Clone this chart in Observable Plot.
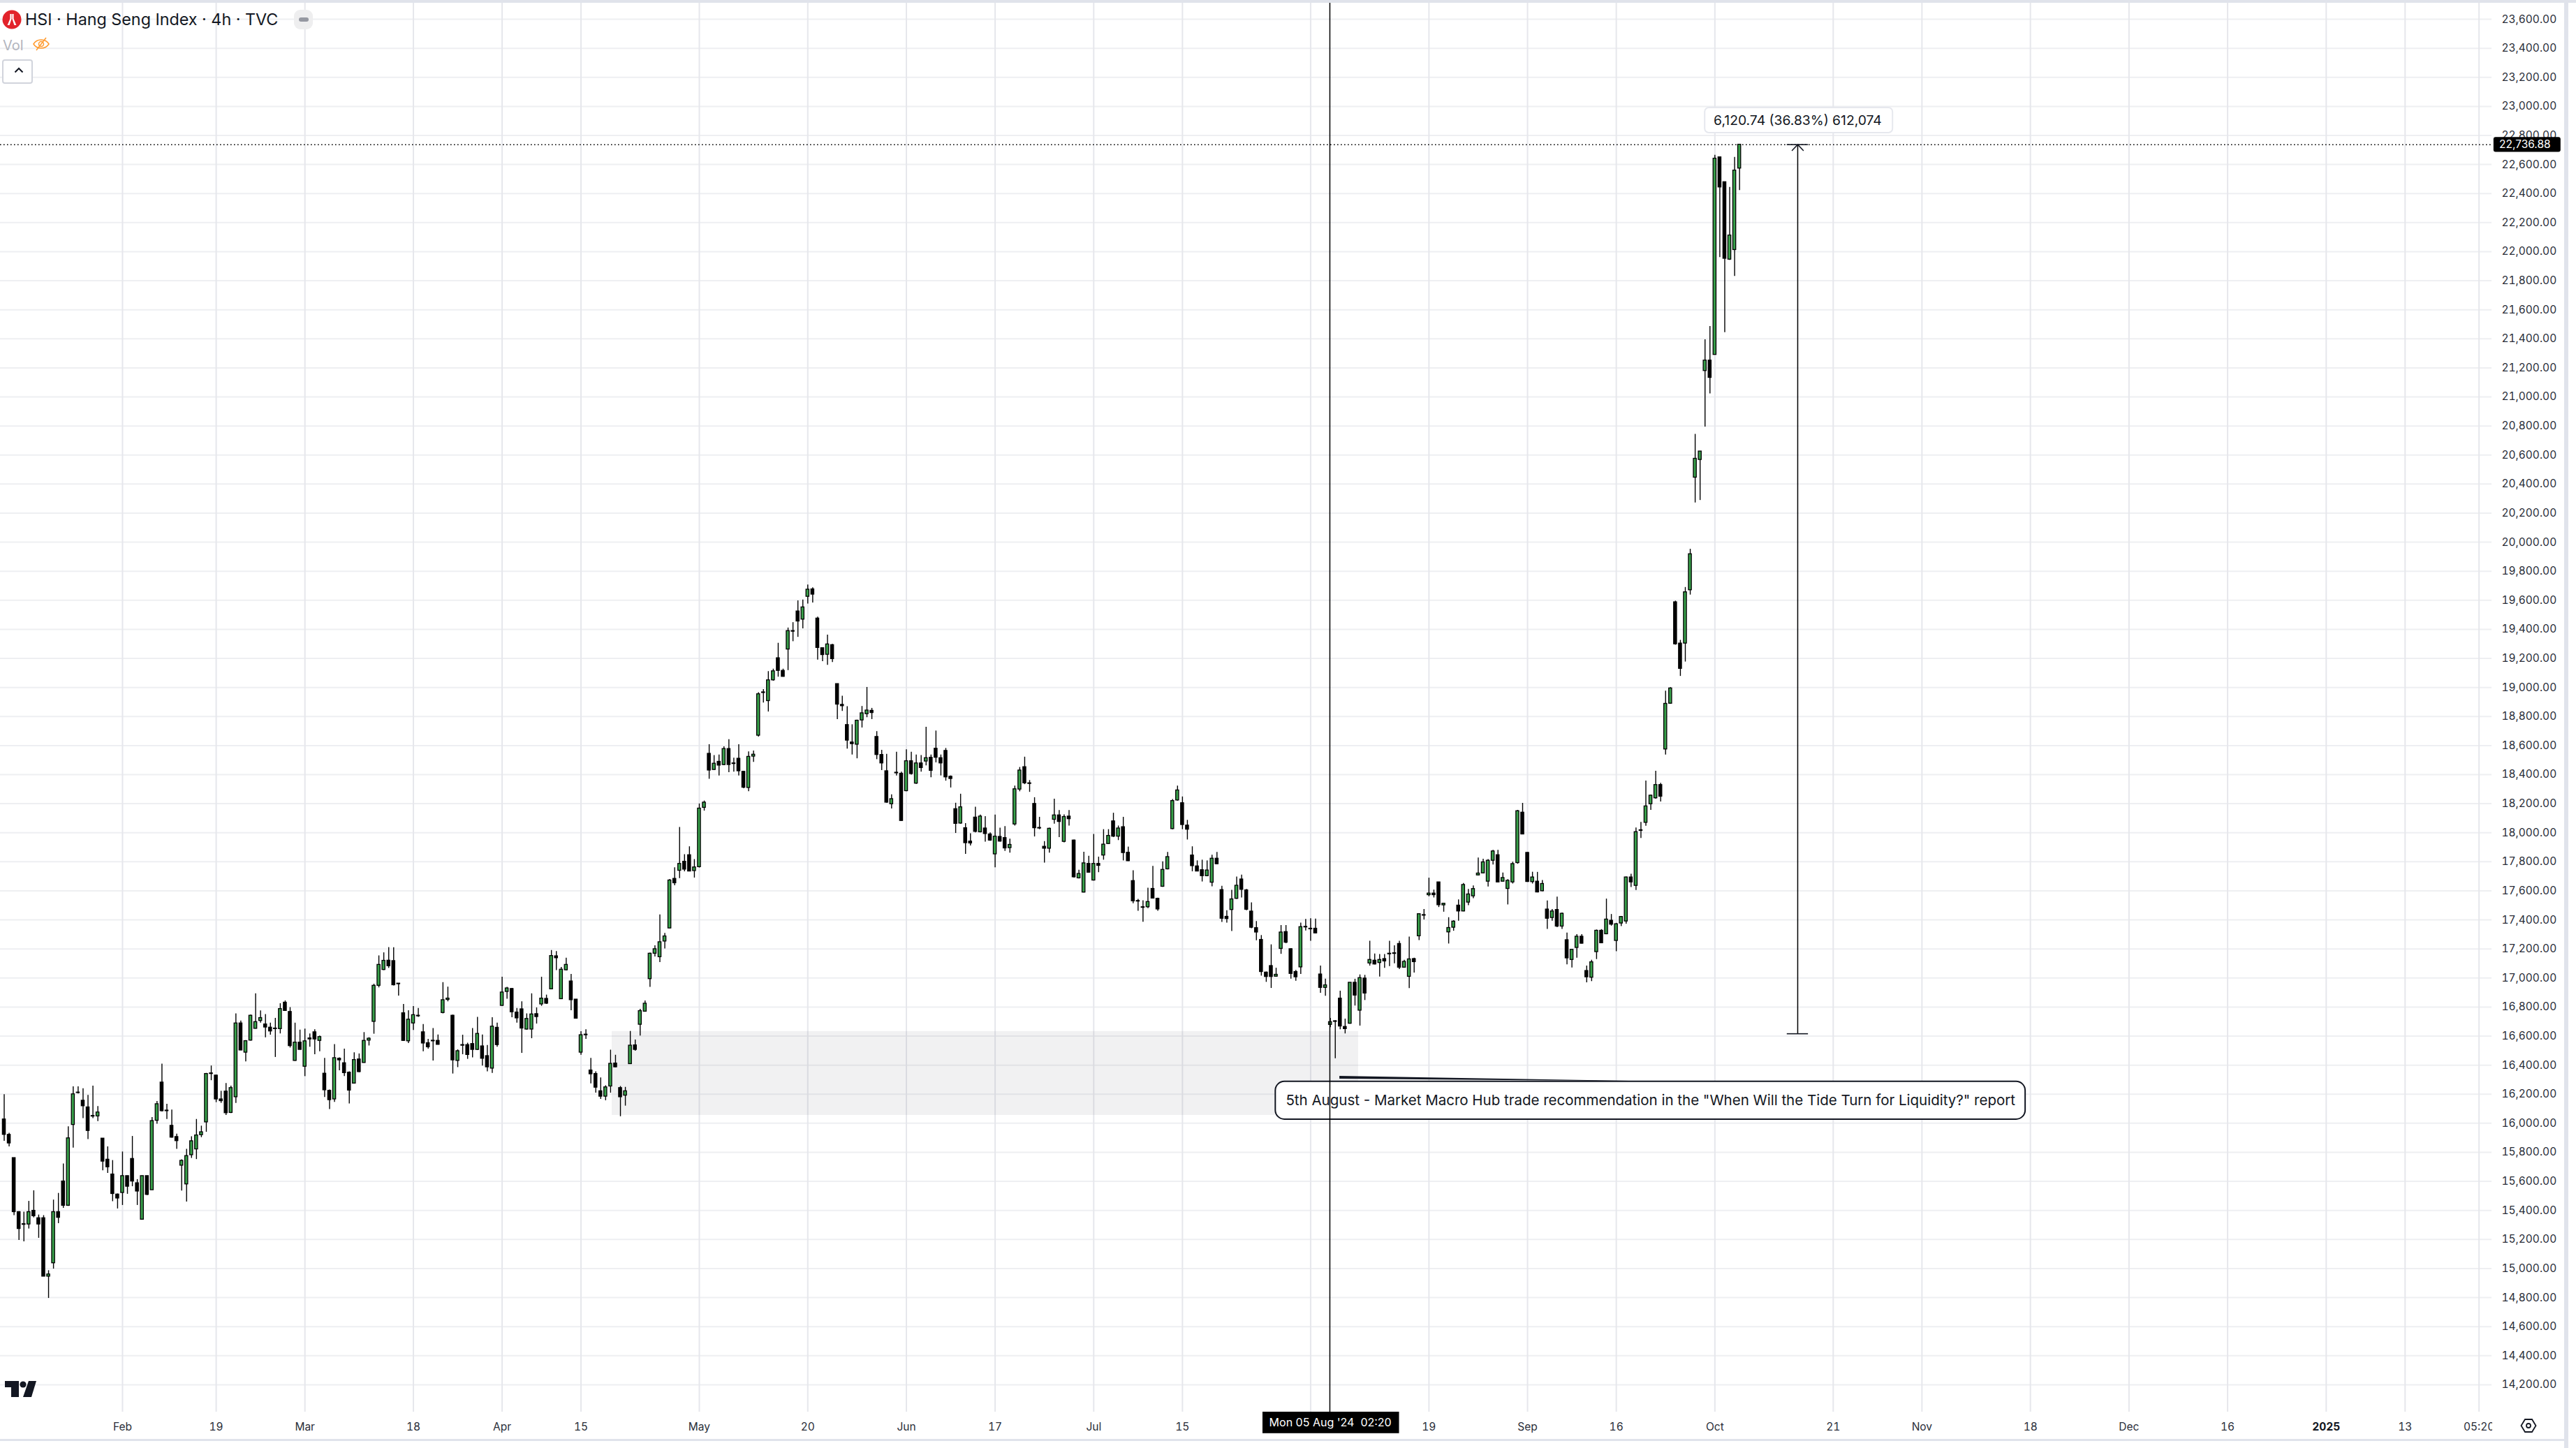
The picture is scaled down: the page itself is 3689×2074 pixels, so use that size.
<!DOCTYPE html>
<html><head><meta charset="utf-8">
<script src="https://cdn.jsdelivr.net/npm/d3@7"></script>
<script src="https://cdn.jsdelivr.net/npm/@observablehq/plot@0.6"></script>
<style>
html,body{margin:0;padding:0;background:#fff;width:3689px;height:2074px;overflow:hidden;font-family:Inter,"Noto Sans",sans-serif}
#wrap{position:relative;width:3689px;height:2074px}
#wrap svg.plot{display:block;max-width:none}
.ab{position:absolute}
</style></head><body><div id="wrap"></div>
<script>
const opens=[16027,15921,15761,15389,15306,15304,15398,15347,15347,14945,
15037,15389,15600,15433,15989,16212,16156,16110,16051,16048,
15895,15750,15648,15510,15521,15637,15755,15588,15337,15637,
15540,16018,16281,16088,15983,15906,15709,15580,15781,15821,
15919,16007,16344,16329,16165,16219,16072,16180,16688,16487,
16570,16651,16705,16681,16659,16653,16649,16831,16767,16430,
16556,16390,16585,16627,16568,16342,16224,16165,16445,16414,
16349,16274,16440,16416,16570,16699,16947,17056,17120,17117,
16962,16758,16565,16688,16741,16627,16552,16569,16568,16760,
16850,16741,16430,16539,16539,16546,16506,16530,16463,16377,
16658,16809,16905,16925,16763,16785,16646,16646,16752,16819,
16857,16923,17150,16855,17054,16977,16852,16487,16611,16364,
16340,16221,16184,16254,16412,16243,16191,16408,16537,16679,
16769,16993,17168,17144,17252,17342,17683,17739,17801,17846,
17737,17764,18172,18544,18433,18489,18467,18577,18478,18510,
18420,18309,18525,18669,18963,18907,19050,19202,19115,19262,
19389,19524,19468,19625,19676,19475,19271,19226,19292,19024,
18881,18742,18622,18607,18774,18817,18840,18660,18536,18424,
18197,18414,18407,18287,18493,18339,18478,18491,18517,18579,
18514,18564,18386,18163,18064,18032,17940,18105,18004,18030,
17989,17852,17972,17964,17895,18058,18298,18452,18341,18199,
18034,17904,17891,18090,18120,17938,18112,17947,17687,17589,
17786,17672,17786,17844,17923,18079,17974,18039,17863,17668,
17531,17488,17488,17614,17546,17629,17749,18026,18223,18204,
18050,17844,17769,17743,17702,17657,17822,17606,17422,17469,
17546,17679,17604,17458,17344,17263,17038,17083,17010,17201,
17317,17199,17042,17074,17353,17340,17340,17025,16933,16678,
16703,16859,16664,16686,16968,16776,16997,17101,17120,17104,
17131,17168,17171,17235,17072,17009,17131,17288,17434,17571,
17582,17659,17501,17315,17347,17499,17459,17520,17563,17707,
17721,17664,17808,17846,17664,17614,17659,17792,18139,17862,
17661,17664,17598,17472,17414,17469,17355,17261,17125,17208,
17285,17049,17003,17179,17326,17302,17395,17256,17376,17390,
17693,17635,18018,18069,18197,18238,18329,18574,18889,19587,
19303,19303,19670,20445,20567,21179,21251,21290,22650,22479,
21946,22012,22573];
const highs=[16197,15932,15761,15393,15389,15463,15536,15369,15365,14986,
15472,15518,15720,15976,16252,16252,16239,16193,16257,16116,
15895,15838,15744,15514,15803,15637,15910,15613,15637,15637,
16040,16151,16408,16132,16092,15926,15750,15821,15908,16027,
15981,16344,16395,16331,16221,16274,16257,16754,16705,16570,
16745,16892,16774,16749,16690,16723,16824,16843,16797,16690,
16642,16649,16616,16644,16601,16447,16230,16543,16451,16511,
16355,16486,16478,16625,16590,16958,17153,17174,17210,17209,
16962,16819,16776,16804,16791,16681,16579,16653,16609,16969,
16938,16745,16506,16607,16552,16653,16730,16609,16537,16727,
16690,17006,16936,16929,16791,16837,16754,16892,16795,17006,
16883,17190,17183,17073,17137,17026,16852,16631,16644,16447,
16355,16313,16259,16504,16469,16254,16248,16633,16574,16785,
16843,17172,17223,17435,17308,17679,17760,18037,17850,17904,
17816,18199,18219,18607,18532,18536,18592,18641,18514,18607,
18424,18557,18564,18965,18986,19110,19127,19305,19127,19410,
19447,19597,19603,19706,19687,19485,19271,19361,19297,19024,
18941,18868,18744,18776,18870,19001,18857,18697,18568,18540,
18262,18555,18418,18572,18555,18536,18532,18727,18536,18701,
18536,18581,18392,18204,18266,18064,17994,18176,18122,18112,
18000,18122,18032,18043,17957,18322,18450,18521,18360,18242,
18107,17940,18032,18232,18154,18124,18154,17951,17743,17867,
17839,17989,17833,18022,18022,18135,18047,18107,17902,17739,
17542,17533,17619,17769,17550,17801,17865,18229,18322,18247,
18086,17904,17807,17812,17807,17846,17865,17632,17464,17604,
17696,17709,17610,17518,17389,17293,17042,17229,17068,17362,
17362,17203,17053,17379,17404,17409,17406,17083,16993,16723,
16707,16910,16718,16968,16992,17022,17019,17254,17166,17163,
17163,17254,17222,17254,17123,17283,17137,17443,17473,17688,
17606,17659,17515,17416,17395,17539,17651,17611,17635,17827,
17819,17816,17880,17880,17723,17678,17798,18155,18203,17864,
17729,17728,17672,17531,17472,17558,17448,17310,17198,17299,
17299,17083,17123,17331,17334,17544,17438,17377,17424,17696,
17715,18033,18072,18357,18259,18424,18341,18975,18999,19595,
19325,19689,19952,20743,20625,21394,21485,22664,22650,22479,
22443,22650,22737];
const lows=[15877,15838,15365,15194,15185,15273,15350,15209,14945,14795,
14997,15310,15415,15429,15830,16202,16033,15889,16033,16013,
15674,15656,15461,15411,15435,15512,15564,15435,15337,15503,
15540,15994,16079,16027,15899,15821,15534,15459,15759,15751,
15902,15939,16294,16143,16138,16055,16068,16138,16500,16423,
16567,16649,16690,16589,16607,16454,16616,16773,16519,16427,
16506,16322,16524,16473,16493,16178,16095,16145,16362,16322,
16134,16272,16349,16414,16533,16614,16933,17052,17067,16946,
16877,16565,16550,16640,16730,16493,16511,16430,16539,16754,
16837,16340,16384,16473,16441,16451,16502,16395,16355,16344,
16524,16806,16855,16727,16690,16482,16642,16583,16684,16806,
16819,16920,17052,16852,17049,16776,16719,16469,16579,16272,
16208,16165,16156,16208,16384,16046,16119,16406,16497,16601,
16767,16936,17146,17107,17201,17340,17636,17685,17732,17732,
17689,17758,18150,18369,18429,18392,18463,18414,18418,18392,
18304,18283,18485,18660,18894,18832,19044,19072,19072,19117,
19316,19346,19404,19575,19582,19190,19179,19153,19172,18780,
18836,18577,18536,18510,18722,18793,18780,18504,18429,18204,
18165,18392,18080,18283,18397,18334,18418,18461,18379,18482,
18392,18356,18309,17996,18060,17852,17910,18000,18000,17936,
17942,17760,17936,17872,17861,18047,18283,18332,18279,17972,
18022,17792,17861,18060,17968,17932,18047,17689,17683,17586,
17722,17668,17726,17812,17921,17968,17947,17807,17803,17512,
17460,17385,17479,17546,17460,17625,17745,18022,18219,18022,
17951,17732,17732,17662,17698,17629,17782,17383,17379,17321,
17542,17552,17464,17340,17257,17014,16971,16929,17006,17164,
17237,16993,16978,17025,17325,17254,17306,16896,16875,16659,
16445,16645,16616,16683,16808,16670,16846,17083,17091,17008,
17067,17080,17099,17059,17070,16928,17035,17259,17400,17560,
17552,17486,17454,17235,17323,17392,17457,17499,17547,17705,
17720,17627,17779,17657,17662,17504,17648,17784,17987,17659,
17648,17587,17595,17336,17392,17347,17336,17091,17070,17137,
17235,16968,16976,17128,17238,17299,17358,17182,17355,17371,
17624,17603,17961,18046,18155,18232,18213,18536,18885,19292,
19077,19176,19637,20271,20288,20793,21022,21290,21960,21444,
21941,21830,22421];
const closes=[15921,15862,15389,15273,15302,15389,15361,15304,14945,14960,
15389,15350,15433,15897,16200,16209,16118,15948,16047,16075,
15737,15698,15514,15483,15637,15564,15600,15531,15637,15508,
16016,16132,16084,16084,15902,15878,15742,15775,15877,15917,
15939,16340,16340,16165,16153,16070,16243,16688,16502,16566,
16741,16697,16725,16660,16633,16649,16787,16774,16532,16556,
16506,16565,16578,16578,16594,16228,16160,16449,16434,16346,
16226,16436,16353,16568,16583,16947,17091,17119,17082,16951,
16958,16568,16714,16745,16737,16550,16524,16565,16541,16848,
16859,16434,16497,16535,16471,16506,16616,16445,16386,16666,
16539,16901,16929,16765,16723,16653,16719,16750,16732,16859,
16824,17152,17137,17058,17091,16848,16721,16607,16607,16338,
16246,16184,16248,16410,16386,16180,16221,16535,16506,16773,
16824,17168,17199,17247,17287,17672,17653,17786,17747,17734,
17762,18167,18208,18429,18476,18463,18577,18467,18474,18424,
18311,18523,18538,18954,18967,19050,19112,19115,19074,19389,
19385,19455,19552,19674,19640,19273,19224,19297,19196,18883,
18872,18635,18611,18772,18823,18842,18825,18536,18478,18208,
18232,18410,18082,18493,18405,18478,18446,18514,18427,18517,
18478,18382,18371,18062,18176,17929,17927,18007,18112,17992,
17947,17974,17940,17893,17917,18300,18429,18341,18337,18032,
18030,17891,18028,18120,18075,18109,18094,17694,17717,17790,
17726,17786,17773,17919,17979,17974,18030,17861,17805,17529,
17527,17484,17524,17548,17473,17745,17833,18219,18292,18054,
18022,17771,17734,17702,17741,17822,17784,17409,17407,17542,
17636,17608,17471,17347,17314,17042,17008,17008,17023,17314,
17244,17029,17006,17351,17349,17336,17308,16933,16950,16697,
16699,16667,16649,16968,16880,17000,16894,17125,17094,17125,
17115,17164,17167,17072,17112,17129,17110,17440,17430,17582,
17571,17502,17512,17345,17389,17459,17641,17576,17613,17720,
17797,17808,17872,17659,17689,17670,17785,18149,17989,17662,
17693,17590,17648,17409,17459,17355,17443,17136,17195,17285,
17237,17006,17109,17326,17240,17403,17368,17371,17421,17693,
17659,18005,18014,18182,18256,18329,18249,18888,18994,19298,
19129,19656,19918,20575,20625,21251,21132,22641,22443,21952,
22112,22559,22737];

// price axis
const yTicks=[14200,14400,14600,14800,15000,15200,15400,15600,15800,16000,16200,16400,16600,16800,17000,17200,17400,17600,17800,18000,18200,18400,18600,18800,19000,19200,19400,19600,19800,20000,20200,20400,20600,20800,21000,21200,21400,21600,21800,22000,22200,22400,22600,22800,23000,23200,23400,23600];
// time axis: bar index of each tick and its label
const xTicks=[24,43,61,83,101,117,141,163,183,201,221,239,265,289,309,327,347,371,389,411,431,451,471,487,502];
const xLabels=["Feb","19","Mar","18","Apr","15","May","20","Jun","17","Jul","15","","19","Sep","16","Oct","21","Nov","18","Dec","16","2025","13","05:20"];
const lastPrice=22736.88;
const zone={bar1:123.3,bar2:274.7,top:16632,bottom:16055};
const crossBar=268.9, crossLabel="Mon 05 Aug '24  02:20";
const measure={bar:363.8,halfCap:2.15,from:16616.14,to:22736.88,text:"6,120.74 (36.83%) 612,074"};
const note={text:'5th August - Market Macro Hub trade recommendation in the "When Will the Tide Turn for Liquidity?" report',bar1:257.9,bar2:410,top:16286,bottom:16026};

const candles=opens.map((o,i)=>({i,o,h:highs[i],l:lows[i],c:closes[i]}));
const ups=candles.filter(d=>d.c>=d.o), downs=candles.filter(d=>d.c<d.o);
const xLabelOf=new Map(xTicks.map((t,k)=>[t,xLabels[k]]));
const BLACK="#000", INK="#131722";
const bodyHalf=0.3;
const body=(data,fill)=>Plot.rect(data,{x1:d=>d.i-bodyHalf,x2:d=>d.i+bodyHalf,y1:"o",y2:"c",fill,stroke:BLACK,strokeWidth:1.3});

const chart=Plot.plot({
  width:3689,height:2074,
  marginTop:0,marginLeft:0,marginRight:121,marginBottom:52,
  style:{fontFamily:"Inter",background:"#fff",maxWidth:"none"},
  x:{type:"linear",domain:[-0.779,504.6],axis:null},
  y:{type:"linear",domain:[14012,23730],axis:null},
  marks:[
    Plot.gridY(yTicks,{stroke:"#eeeff2",strokeOpacity:1,strokeWidth:2}),
    Plot.gridX(xTicks,{stroke:"#e6e7ec",strokeOpacity:1,strokeWidth:2}),
    Plot.rect([zone],{x1:"bar1",x2:"bar2",y1:"bottom",y2:"top",fill:"#787b86",fillOpacity:0.105}),
    Plot.axisY(yTicks,{anchor:"right",label:null,tickSize:0,tickPadding:14,fontSize:15.5,color:"#2a2e39",tickFormat:d3.format(",.2f")}),
    Plot.axisX(xTicks.filter(t=>xLabelOf.get(t)&&xLabelOf.get(t)!=="2025"),{anchor:"bottom",label:null,tickSize:0,tickPadding:15,fontSize:15.5,color:"#2a2e39",tickFormat:t=>xLabelOf.get(t)}),
    Plot.axisX([471],{anchor:"bottom",label:null,tickSize:0,tickPadding:15,fontSize:15.5,fontWeight:700,color:"#131722",tickFormat:t=>xLabelOf.get(t)}),
    Plot.ruleY([lastPrice],{stroke:BLACK,strokeWidth:1.5,strokeDasharray:"1.6,3.4"}),
    Plot.ruleX(candles,{x:"i",y1:"l",y2:"h",stroke:BLACK,strokeWidth:1.4}),
    body(ups,"#38a04a"),
    body(downs,BLACK),
    // measuring tool
    Plot.ruleX([measure],{x:"bar",y1:"from",y2:"to",stroke:BLACK,strokeWidth:1.5}),
    Plot.ruleY([measure.from,measure.to],{x1:measure.bar-measure.halfCap,x2:measure.bar+measure.halfCap,stroke:INK,strokeWidth:1.6}),
    Plot.line([[measure.bar-1.13,measure.to-40],[measure.bar,measure.to],[measure.bar+1.13,measure.to-40]],{x:d=>d[0],y:d=>d[1],stroke:INK,strokeWidth:1.5}),
    Plot.rect([measure],{x1:345,x2:383.1,y1:22817,y2:22990,fill:"#fff",stroke:"#e6e8ee",strokeWidth:2,rx:6}),
    Plot.text([measure],{x:"bar",y:22903,text:"text",fontSize:19.3,fill:"#131722"}),
    // callout
    Plot.area([{b:270.9,a:16324,z:16305},{b:336.3,a:16286,z:16286}],{x1:"b",y1:"a",y2:"z",fill:INK}),
    Plot.rect([note],{x1:"bar1",x2:"bar2",y1:"bottom",y2:"top",fill:"#fff",stroke:INK,strokeWidth:2,rx:13}),
    // crosshair
    Plot.ruleX([crossBar],{y1:14012,y2:23730,stroke:BLACK,strokeWidth:1.5}),
    Plot.text([note],{x:(d=>(d.bar1+d.bar2)/2),y:16156,text:"text",fontSize:20.5,fill:INK}),
    // last-price badge
    Plot.rect([lastPrice],{x1:505,x2:518.6,y1:22685,y2:22787,fill:BLACK,rx:3}),
    Plot.text([lastPrice],{x:511.3,y:d=>d,text:d3.format(",.2f"),fontSize:15.5,fill:"#fff"}),
    // crosshair date badge
    Plot.rect([crossLabel],{x1:255.3,x2:283,y1:13864,y2:14012,fill:BLACK}),
    Plot.text([crossLabel],{x:269.0,y:13938,text:d=>d,fontSize:16,fill:"#fff",style:{whiteSpace:"pre"}})
  ]
});
const wrap=document.getElementById("wrap");
wrap.appendChild(chart);
const chrome=`
<div class="ab" style="left:3569px;top:2030px;width:8px;height:28px;background:#fff"></div>
<div class="ab" style="left:0;top:0;width:3689px;height:4px;background:#e0e3eb"></div>
<div class="ab" style="left:3672px;top:0;width:6px;height:2074px;background:#e0e3eb"></div>
<div class="ab" style="left:0;top:2061px;width:3672px;height:2.5px;background:#e0e3eb"></div>
<div class="ab" style="left:0;top:2064px;width:3672px;height:10px;background:#fff"></div>
<svg class="ab" style="left:3px;top:14px" width="28" height="28" viewBox="0 0 28 28"><circle cx="14" cy="14" r="13.5" fill="#e2232b"/><path d="M11.4 6h2.2v7l-3 9H7.6l3.8-9zM14.4 6h2.2v7l3.8 9h-3l-3-9z" fill="#fff"/></svg>
<div class="ab" style="left:36px;top:14px;font:400 23.3px/28px Inter;color:#131722;white-space:nowrap">HSI · Hang Seng Index · 4h · TVC</div>
<div class="ab" style="left:421px;top:14px;width:27px;height:28px;border-radius:9px;background:#eeeeef"></div>
<div class="ab" style="left:428px;top:25px;width:14px;height:6px;border-radius:3px;background:#9598a1"></div>
<div class="ab" style="left:4px;top:53px;font:400 20px/24px Inter;color:#b2b5be">Vol</div>
<svg class="ab" style="left:46px;top:52px" width="26" height="22" viewBox="0 0 26 22" fill="none" stroke="#ff9a2e" stroke-width="1.5"><path d="M2 11c5-8 17-8 22 0-5 8-17 8-22 0z"/><circle cx="13" cy="11" r="3.5"/><path d="M20 2L6 20"/></svg>
<div class="ab" style="left:3px;top:85px;width:40px;height:31px;border:2px solid #d1d4dc;border-radius:4px;background:#fff"></div>
<svg class="ab" style="left:20px;top:96px" width="14" height="9" viewBox="0 0 14 9" fill="none" stroke="#131722" stroke-width="2"><path d="M1.5 7.5L7 2l5.5 5.5"/></svg>
<svg class="ab" style="left:0;top:1970px" width="60" height="40" viewBox="0 1970 60 40"><path d="M7 1978h20v23H16v-14H7z" fill="#131722"/><circle cx="33" cy="1983" r="4.6" fill="#131722"/><path d="M41 1978h11l-7 23H33z" fill="#131722"/></svg>
<svg class="ab" style="left:3609px;top:2031px" width="24" height="22" viewBox="0 0 24 22" fill="none" stroke="#131722" stroke-width="1.8"><path d="M7 2h10l5.5 9-5.5 9H7l-5.5-9z"/><circle cx="12" cy="11" r="3"/></svg>`;
wrap.insertAdjacentHTML("beforeend",chrome);
</script></body></html>
